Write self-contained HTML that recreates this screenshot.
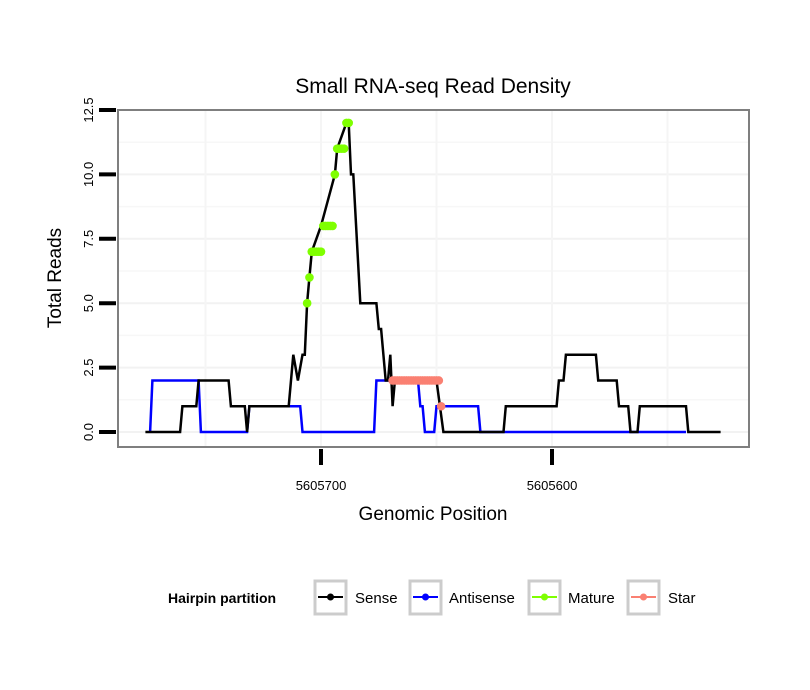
<!DOCTYPE html>
<html><head><meta charset="utf-8"><style>
html,body{margin:0;padding:0;background:#fff;}
svg{display:block;font-family:"Liberation Sans",sans-serif;}
</style></head><body>
<svg id="chart" width="810" height="690" viewBox="0 0 810 690">
<rect x="0" y="0" width="810" height="690" fill="#fff"/>
<text x="433" y="93" font-size="21" text-anchor="middle" fill="#000">Small RNA-seq Read Density</text>
<g id="grid"></g>
<g id="series"></g>
<rect x="118" y="110" width="631" height="337" fill="none" stroke="#7f7f7f" stroke-width="2"/>
<g id="axes"></g>
<text x="433" y="520" font-size="19" text-anchor="middle">Genomic Position</text>
<text x="0" y="0" font-size="19" text-anchor="middle" transform="translate(61,278) rotate(-90)">Total Reads</text>
<g>
<text x="168" y="603" font-size="14" font-weight="bold">Hairpin partition</text>
<g>
<rect x="315" y="581" width="31" height="33" fill="#fff" stroke="#cccccc" stroke-width="3"/>
<line x1="318" y1="597" x2="343" y2="597" stroke="#000" stroke-width="2"/><circle cx="330.5" cy="597" r="3.5" fill="#000"/>
<text x="355" y="603" font-size="15">Sense</text></g>
<g>
<rect x="410" y="581" width="31" height="33" fill="#fff" stroke="#cccccc" stroke-width="3"/>
<line x1="413" y1="597" x2="438" y2="597" stroke="#0000ff" stroke-width="2"/><circle cx="425.5" cy="597" r="3.5" fill="#0000ff"/>
<text x="449" y="603" font-size="15">Antisense</text></g>
<g>
<rect x="529" y="581" width="31" height="33" fill="#fff" stroke="#cccccc" stroke-width="3"/>
<line x1="532" y1="597" x2="557" y2="597" stroke="#7fff00" stroke-width="2"/><circle cx="544.5" cy="597" r="3.5" fill="#7fff00"/>
<text x="568" y="603" font-size="15">Mature</text></g>
<g>
<rect x="628" y="581" width="31" height="33" fill="#fff" stroke="#cccccc" stroke-width="3"/>
<line x1="631" y1="597" x2="656" y2="597" stroke="#fa8072" stroke-width="2"/><circle cx="643.5" cy="597" r="3.5" fill="#fa8072"/>
<text x="668" y="603" font-size="15">Star</text></g>
</g>
</svg>
<script>
const yTicks = [0, 2.5, 5, 7.5, 10, 12.5];
const yTickLabels = ["0.0", "2.5", "5.0", "7.5", "10.0", "12.5"];
const xTicks = [5605700, 5605600];
const xTickLabels = ["5605700", "5605600"];
const sensePos = [5605776,5605761,5605760,5605754,5605753,5605740,5605739,5605733,5605732,5605731,5605714,5605712,5605710,5605708,5605707,5605706,5605705,5605704,5605700,5605694,5605693,5605689,5605688,5605687,5605686,5605683,5605676,5605675,5605674,5605672,5605671,5605670,5605669,5605668,5605650,5605647,5605621,5605620,5605598,5605597,5605595,5605594,5605581,5605580,5605572,5605571,5605567,5605566,5605563,5605562,5605542,5605541,5605527];
const senseVal = [0,0,1,1,2,2,1,1,0,1,1,3,2,3,3,5,6,7,8,10,11,12,12,10,10,5,5,4,4,2,2,3,1,2,2,0,0,1,1,2,2,3,3,2,2,1,1,0,0,1,1,0,0];
const antiPos = [5605774,5605773,5605753,5605752,5605732,5605731,5605709,5605708,5605677,5605676,5605658,5605657,5605656,5605655,5605651,5605650,5605632,5605631,5605542];
const antiVal = [0,2,2,0,0,1,1,0,0,2,2,1,1,0,0,1,1,0,0];
const maturePos = [5605706,5605705,5605704,5605703,5605702,5605701,5605700,5605699,5605698,5605697,5605696,5605695,5605694,5605693,5605692,5605691,5605690,5605689,5605688];
const matureVal = [5,6,7,7,7,7,7,8,8,8,8,8,10,11,11,11,11,12,12];
const starPos = [5605669,5605668,5605667,5605666,5605665,5605664,5605663,5605662,5605661,5605660,5605659,5605658,5605657,5605656,5605655,5605654,5605653,5605652,5605651,5605650,5605649,5605648];
const starVal = [2,2,2,2,2,2,2,2,2,2,2,2,2,2,2,2,2,2,2,2,2,1];

const NS = "http://www.w3.org/2000/svg";
function xs(p){ return 321 + (5605700 - p) * 2.31; }
function ys(v){ return 432 - v * 25.76; }
function mk(tag, attrs, parent){ const e = document.createElementNS(NS, tag); for (const k in attrs) e.setAttribute(k, attrs[k]); parent.appendChild(e); return e; }
const grid = document.getElementById('grid');
const axes = document.getElementById('axes');
const series = document.getElementById('series');
for (let i = 0; i < yTicks.length; i++) {
  const y = ys(yTicks[i]);
  const g = mk('line', {x1:119, x2:748, y1:y, y2:y, stroke:'#f2f2f2', 'stroke-width':2}, grid);
  
  
  if (i < yTicks.length - 1) {
    const ym = ys((yTicks[i] + yTicks[i+1]) / 2);
    const gm = mk('line', {x1:119, x2:748, y1:ym, y2:ym, stroke:'#f7f7f7', 'stroke-width':1.5}, grid);
    
    
  }
  const t = mk('line', {x1:99, x2:116, y1:y, y2:y, stroke:'#000', 'stroke-width':4}, axes);
  
  
  const lb = mk('text', {x:0, y:0, 'font-size':13, 'text-anchor':'middle', transform:'translate(93,'+y+') rotate(-90)'}, axes);
  lb.textContent = yTickLabels[i];
  
  
}
const xMinor = [5605750, 5605650, 5605550];
for (const p of xMinor.concat(xTicks)) {
  const x = xs(p);
  if (x < 119 || x > 748) continue;
  const g = mk('line', {x1:x, x2:x, y1:111, y2:446, stroke:'#f5f5f5', 'stroke-width':2}, grid);
  
  
}
for (let i = 0; i < xTicks.length; i++) {
  const x = xs(xTicks[i]);
  const t = mk('line', {x1:x, x2:x, y1:449, y2:465, stroke:'#000', 'stroke-width':4}, axes);
  
  
  const lb = mk('text', {x:x, y:490, 'font-size':13, 'text-anchor':'middle'}, axes);
  lb.textContent = xTickLabels[i];
  
  
}
function line(pos, val, color, name){
  const pts = pos.map((p,i)=> xs(p).toFixed(1)+','+ys(val[i]).toFixed(1)).join(' ');
  const l = mk('polyline', {points:pts, fill:'none', stroke:color, 'stroke-width':2.5, 'stroke-linejoin':'miter'}, series);
  
  
}
function dots(pos, val, color, name){
  for (let i = 0; i < pos.length; i++) {
    const c = mk('circle', {cx:xs(pos[i]), cy:ys(val[i]), r:4.3, fill:color}, series);
    
    
  }
}
line(antiPos, antiVal, '#0000ff', 'antisense-line');
line(sensePos, senseVal, '#000000', 'sense-line');
dots(maturePos, matureVal, '#7fff00', 'mature-point');
dots(starPos, starVal, '#fa8072', 'star-point');
</script>
</body></html>
